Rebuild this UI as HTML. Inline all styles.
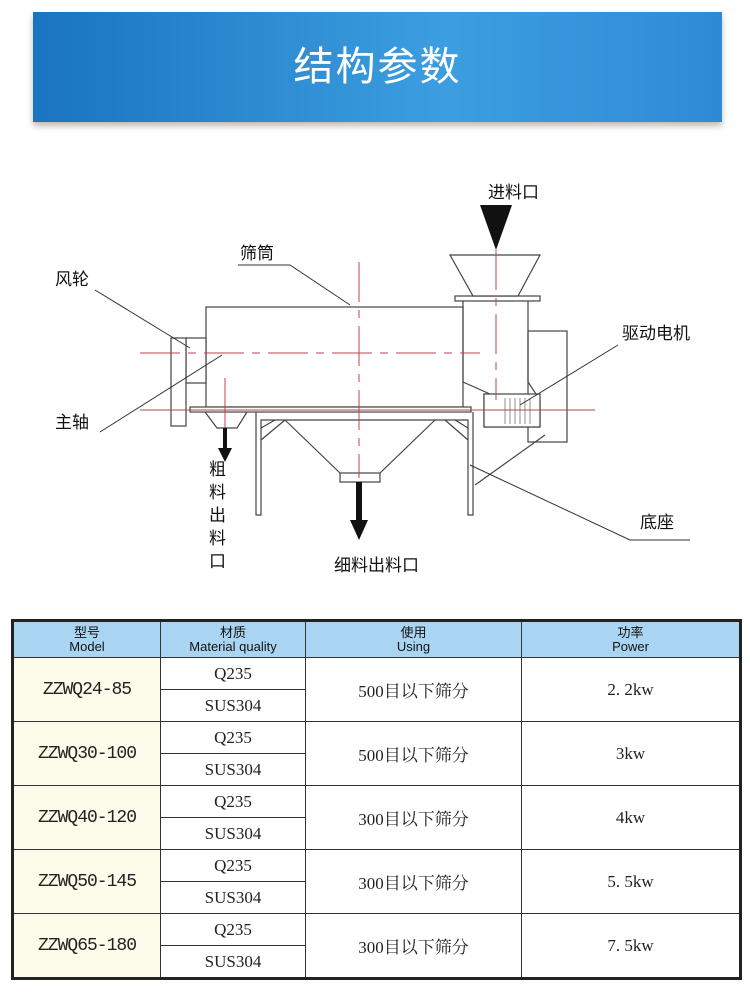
<!DOCTYPE html>
<html><head><meta charset="utf-8"><style>
body{margin:0;width:750px;height:1008px;background:#fff;position:relative;overflow:hidden;font-family:"Liberation Sans","Noto Sans CJK SC",sans-serif}
.banner{position:absolute;left:33px;top:12px;width:689px;height:110px;background:linear-gradient(90deg,#1a74c0,#3c9ee0 60%,#2f8ad6);box-shadow:0 4px 6px #bbb}
.banner div{color:#fff;font-size:40px;text-align:center;line-height:110px;letter-spacing:2px}
table{position:absolute;left:11px;top:619px;width:731px;border-collapse:collapse;border:3px solid #222;table-layout:fixed}
td{border:1.5px solid #333;text-align:center;padding:0;font-family:"Liberation Serif","Noto Serif CJK SC",serif;font-size:17px;color:#222}
th{border:1.5px solid #333;background:#a9d5f2;font-weight:normal;font-size:13px;line-height:14px;height:33px;color:#111}
td.m{background:#fdfbea;font-family:"Liberation Mono","Noto Sans CJK SC",monospace;font-size:18px;letter-spacing:-1px}
td.h{height:31px}
</style></head><body>
<div class="banner"><div>结构参数</div></div>
<svg width="750" height="600" style="position:absolute;left:0;top:0" font-family="Liberation Sans,Noto Sans CJK SC,sans-serif" font-size="17">
<g stroke="#444" stroke-width="1.2" fill="#fff">
<rect x="206" y="307" width="257" height="100"/>
<rect x="186" y="338" width="20" height="45"/>
<rect x="171" y="338" width="15" height="88"/>
<rect x="528" y="331" width="39" height="111"/>
<path d="M463 300 H528 V382 L540 400 V427 H484 V394 H490 L463 382Z" fill="none"/>
<rect x="455" y="296" width="85" height="5"/>
<path d="M450 255 H540 L518 296 H473Z"/>
<rect x="190" y="407" width="281" height="5"/>
<rect x="484" y="394" width="56" height="33" fill="#fff"/>
<path d="M256 412 V515 H261 V420 H468 V515 H473 V412" fill="none"/>
<path d="M261 428 L275 420 M261 440 L285 420 M468 428 L455 420 M468 440 L445 420" fill="none"/>
<path d="M285 420 L340 473 M435 420 L380 473" fill="none"/>
<rect x="340" y="473" width="40" height="9"/>
<path d="M205 412 L217 428 H237 L247 412" fill="none"/>
<line x1="475" y1="485" x2="545" y2="435"/>
</g>
<g stroke="#777" stroke-width="0.8"><line x1="505" y1="398" x2="505" y2="424"/><line x1="510" y1="398" x2="510" y2="424"/><line x1="515" y1="398" x2="515" y2="424"/><line x1="520" y1="398" x2="520" y2="424"/><line x1="525" y1="398" x2="525" y2="424"/><line x1="530" y1="398" x2="530" y2="424"/></g>
<g stroke="#c04050" stroke-width="1" fill="none">
<line x1="140" y1="353" x2="480" y2="353" stroke-dasharray="40,8,8,8"/>
<line x1="359" y1="262" x2="359" y2="478" stroke-dasharray="40,8,8,8"/>
<line x1="496" y1="250" x2="496" y2="400" stroke-dasharray="40,8,8,8"/>
<line x1="140" y1="410" x2="595" y2="410"/>
<line x1="225" y1="378" x2="225" y2="428"/>
</g>
<g fill="#111" stroke="none">
<rect x="494" y="205" width="4" height="30"/><path d="M480 205 H512 L496 250Z"/>
<rect x="223" y="428" width="4" height="24"/><path d="M218 448 H232 L225 462Z"/>
<rect x="356" y="482" width="6" height="42"/><path d="M350 520 H368 L359 540Z"/>
</g>
<g stroke="#333" stroke-width="1" fill="none">
<path d="M238 265 H290 L350 305"/>
<path d="M95 290 L190 348"/>
<path d="M100 432 L222 355"/>
<path d="M618 345 L520 405"/>
<path d="M690 540 H630 L470 465"/>
</g>
<g fill="#111">
<text x="488" y="198">进料口</text>
<text x="240" y="259">筛筒</text>
<text x="55" y="285">风轮</text>
<text x="55" y="428">主轴</text>
<text x="622" y="339">驱动电机</text>
<text x="640" y="528">底座</text>
<text x="334" y="571">细料出料口</text>
<text x="209" y="475">粗</text><text x="209" y="498">料</text><text x="209" y="521">出</text><text x="209" y="544">料</text><text x="209" y="567">口</text>
</g>
</svg>
<table>
<colgroup><col style="width:148px"><col style="width:145px"><col style="width:216px"><col></colgroup>
<tr><th>型号<br>Model</th><th>材质<br>Material quality</th><th>使用<br>Using</th><th>功率<br>Power</th></tr>
<tr><td class="m" rowspan="2">ZZWQ24-85</td><td class="h">Q235</td><td rowspan="2">500目以下筛分</td><td rowspan="2">2. 2kw</td></tr><tr><td class="h">SUS304</td></tr>
<tr><td class="m" rowspan="2">ZZWQ30-100</td><td class="h">Q235</td><td rowspan="2">500目以下筛分</td><td rowspan="2">3kw</td></tr><tr><td class="h">SUS304</td></tr>
<tr><td class="m" rowspan="2">ZZWQ40-120</td><td class="h">Q235</td><td rowspan="2">300目以下筛分</td><td rowspan="2">4kw</td></tr><tr><td class="h">SUS304</td></tr>
<tr><td class="m" rowspan="2">ZZWQ50-145</td><td class="h">Q235</td><td rowspan="2">300目以下筛分</td><td rowspan="2">5. 5kw</td></tr><tr><td class="h">SUS304</td></tr>
<tr><td class="m" rowspan="2">ZZWQ65-180</td><td class="h">Q235</td><td rowspan="2">300目以下筛分</td><td rowspan="2">7. 5kw</td></tr><tr><td class="h">SUS304</td></tr>
</table>
</body></html>
